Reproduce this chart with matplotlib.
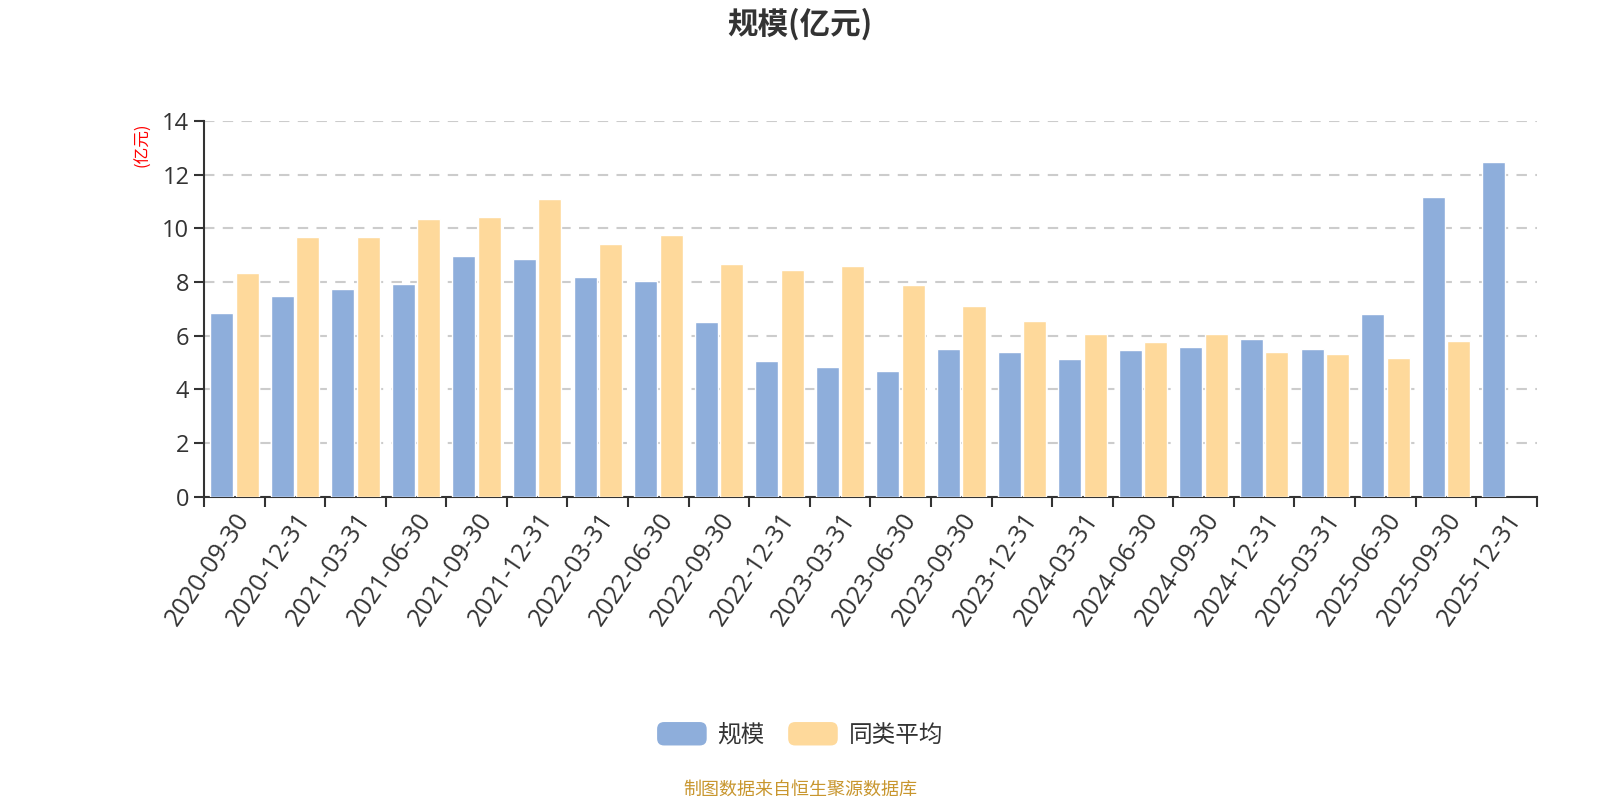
import matplotlib.pyplot as plt
from matplotlib.patches import FancyBboxPatch, Patch
from matplotlib.legend_handler import HandlerPatch
import numpy as np

plt.rcParams['font.family'] = ['Open Sans', 'Noto Sans CJK SC', 'DejaVu Sans']

# data
dates = ['2020-09-30', '2020-12-31', '2021-03-31', '2021-06-30', '2021-09-30',
         '2021-12-31', '2022-03-31', '2022-06-30', '2022-09-30', '2022-12-31',
         '2023-03-31', '2023-06-30', '2023-09-30', '2023-12-31', '2024-03-31',
         '2024-06-30', '2024-09-30', '2024-12-31', '2025-03-31', '2025-06-30',
         '2025-09-30', '2025-12-31']
scale = [6.86, 7.46, 7.73, 7.91, 8.96, 8.84, 8.20, 8.02, 6.49, 5.04,
         4.83, 4.68, 5.50, 5.39, 5.14, 5.47, 5.57, 5.88, 5.50, 6.81,
         11.18, 12.45]
peer_avg = [8.33, 9.66, 9.66, 10.36, 10.40, 11.08, 9.42, 9.74, 8.66, 8.44,
            8.61, 7.88, 7.10, 6.54, 6.08, 5.78, 6.05, 5.41, 5.30, 5.16,
            5.80, np.nan]
series_names = ['规模', '同类平均']

blue = '#8eaedb'
yellow = '#fed99b'

fig = plt.figure(figsize=(16, 8), dpi=100)
ax = fig.add_axes([0.1275, 0.379, 0.833, 0.470])

x = np.arange(len(dates))
w = 0.38
ax.bar(x - 0.21, scale, width=w, color=blue, edgecolor='white', linewidth=1, zorder=3)
ax.bar(x + 0.21, peer_avg, width=w, color=yellow, edgecolor='white', linewidth=1, zorder=3)

ax.set_xlim(-0.5, len(dates) - 0.5)
ax.set_ylim(0, 14)
ax.set_yticks(range(0, 15, 2))
ax.yaxis.grid(True, color='#cccccc', linestyle=(0, (5, 4)), linewidth=1.5, zorder=0)

ax.set_xticks(x)
ax.set_xticklabels(dates, rotation=56, ha='right', rotation_mode='anchor')
ax.set_xticks(np.arange(-0.5, len(dates)), minor=True)
ax.tick_params(axis='x', which='major', length=0, pad=8, labelsize=18, labelcolor='#333333')
ax.tick_params(axis='x', which='minor', length=7, width=1.5, color='#333333')
ax.tick_params(axis='y', length=7, width=1.5, color='#333333', labelsize=17, labelcolor='#333333')

for s in ['top', 'right']:
    ax.spines[s].set_visible(False)
for s in ['left', 'bottom']:
    ax.spines[s].set_color('#333333')
    ax.spines[s].set_linewidth(1.5)

fig.text(0.0895, 0.819, '(亿元)', color='red', fontsize=12, rotation=90,
         ha='center', va='center', family=['Noto Sans CJK SC', 'DejaVu Sans'])

fig.text(0.5, 0.969, '规模(亿元)', fontsize=22, fontweight='bold', color='#333333',
         ha='center', va='center', family=['Noto Sans CJK SC', 'DejaVu Sans'])


class RoundHandler(HandlerPatch):
    def create_artists(self, legend, orig_handle, xdescent, ydescent, width, height, fontsize, trans):
        p = FancyBboxPatch((-xdescent, -ydescent), width, height,
                           boxstyle='round,pad=0,rounding_size=5',
                           facecolor=orig_handle.get_facecolor(), edgecolor='none', transform=trans)
        return [p]


handles = [Patch(facecolor=blue), Patch(facecolor=yellow)]
leg = fig.legend(handles, series_names, loc='center', bbox_to_anchor=(0.5, 0.082), ncol=2,
                 frameon=False, handlelength=2.1, handleheight=1.15,
                 columnspacing=1.0, handletextpad=0.45,
                 handler_map={Patch: RoundHandler()},
                 prop={'family': ['Noto Sans CJK SC', 'DejaVu Sans'], 'size': 17})
for t in leg.get_texts():
    t.set_color('#333333')

fig.text(0.5, 0.013, '制图数据来自恒生聚源数据库', fontsize=13, color='#c8962e',
         ha='center', va='center', family=['Noto Sans CJK SC', 'DejaVu Sans'])

fig.savefig('out.png', dpi=100)
